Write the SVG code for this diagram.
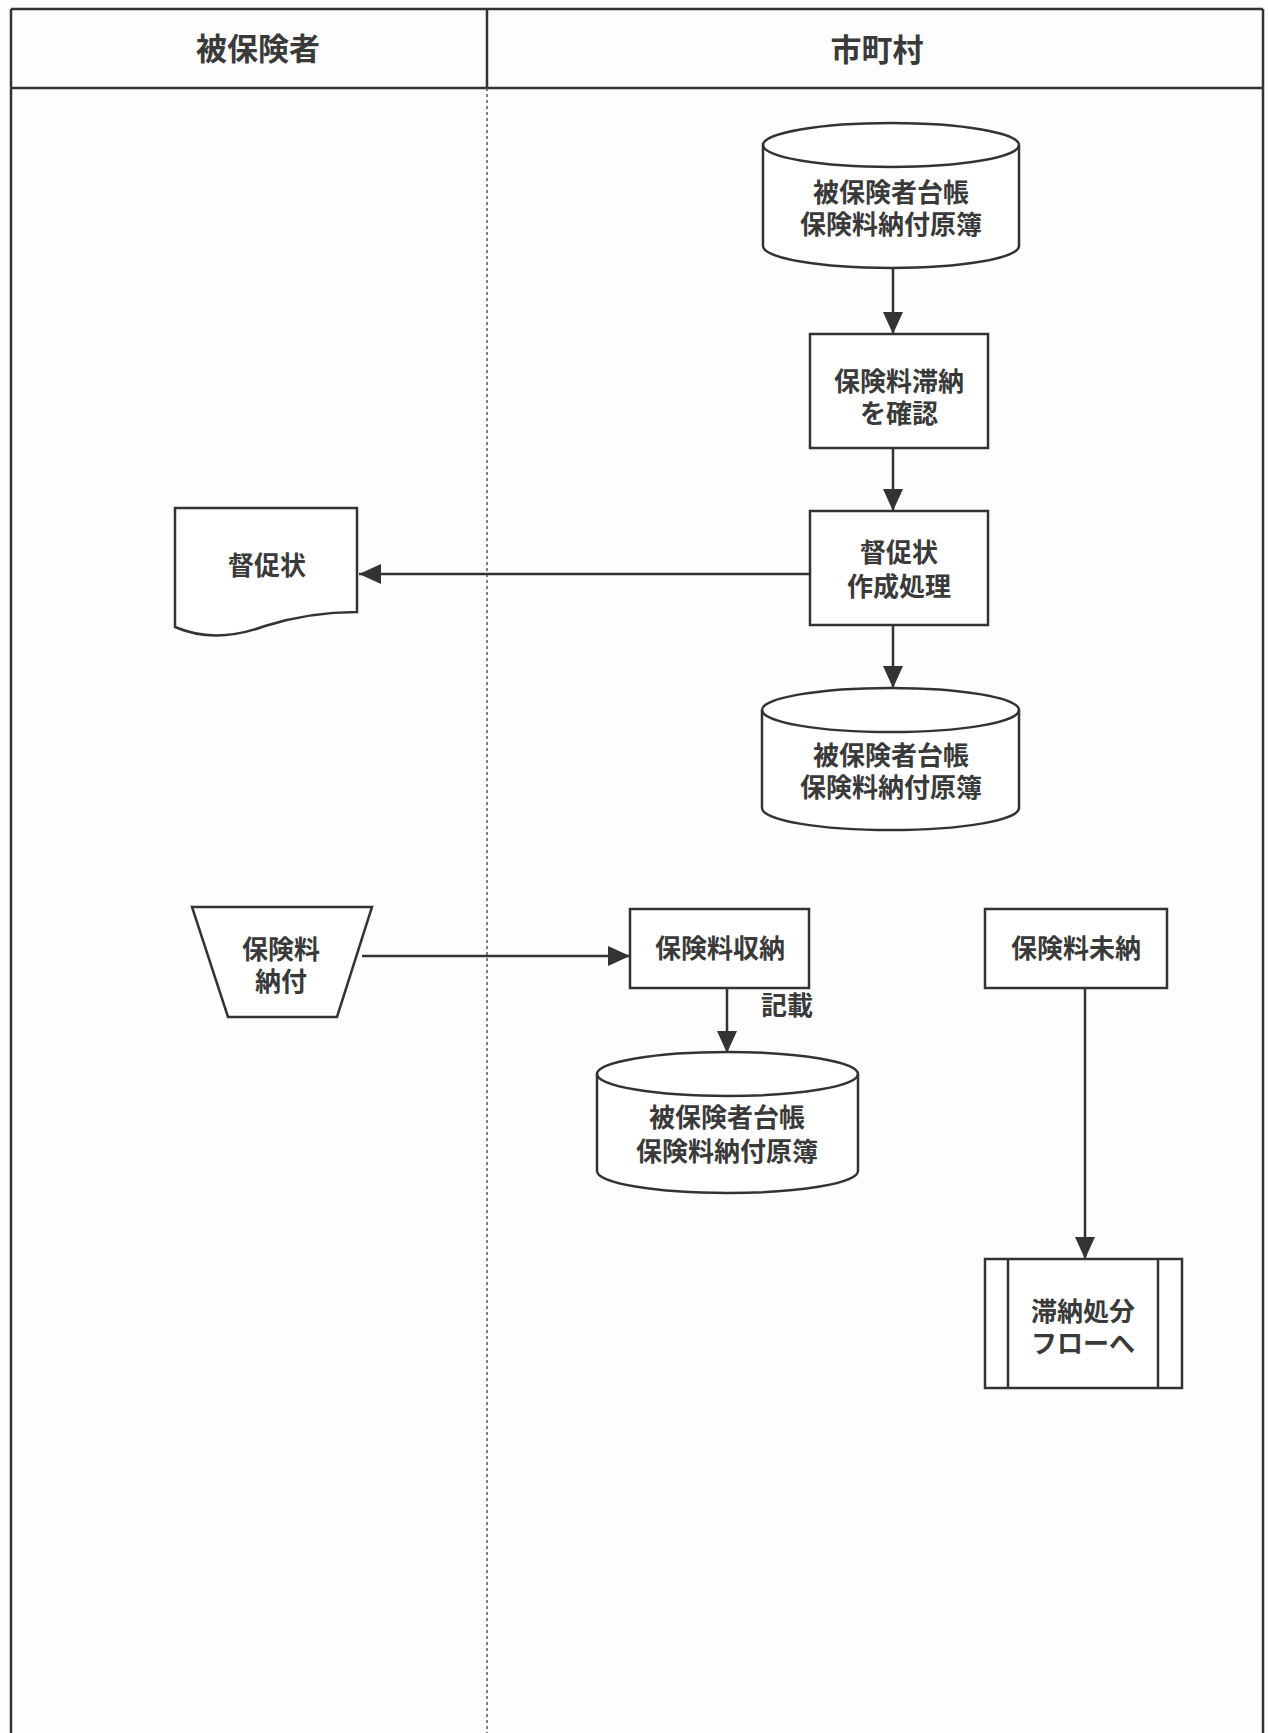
<svg xmlns="http://www.w3.org/2000/svg" width="1268" height="1733" viewBox="0 0 1268 1733">
<defs>
<style>
.ln{stroke:#333;stroke-width:2.5;fill:none}
.shp{stroke:#333;stroke-width:2.5;fill:#fff}
.t{font-family:"Noto Sans CJK JP","Noto Sans CJK SC",sans-serif;font-weight:bold;fill:#3a3a3a;font-size:26px;text-anchor:middle}
.h{font-family:"Noto Sans CJK JP","Noto Sans CJK SC",sans-serif;font-weight:bold;fill:#3a3a3a;font-size:31px;text-anchor:middle}
.c{stroke:#333;stroke-width:2.5;fill:none;marker-end:url(#ah)}
</style>
<marker id="ah" markerUnits="userSpaceOnUse" markerWidth="24" markerHeight="24" viewBox="0 0 24 24" refX="22" refY="12" orient="auto">
<path d="M0,2 L22,12 L0,22 Z" fill="#333"/>
</marker>
</defs>
<rect width="1268" height="1733" fill="#fdfdfd"/>
<g id="frame">
<line x1="11" y1="9" x2="11" y2="1733" class="ln"/>
<line x1="1263" y1="9" x2="1263" y2="1733" class="ln"/>
<line x1="11" y1="9" x2="1263" y2="9" class="ln" stroke-width="3.5"/>
<line x1="11" y1="88" x2="1263" y2="88" class="ln" stroke-width="4"/>
<line x1="487" y1="9" x2="487" y2="88" class="ln"/>
<line x1="487" y1="88" x2="487" y2="1733" stroke="#555" stroke-width="1.5" stroke-dasharray="3,3"/>
</g>
<g id="lane-headers">
<text x="258" y="60" class="h">被保険者</text>
<text x="877" y="61" class="h">市町村</text>
</g>
<g id="connectors">
<line x1="893" y1="268" x2="893" y2="334" class="c"/>
<line x1="893" y1="448" x2="893" y2="511" class="c"/>
<line x1="810" y1="574" x2="359" y2="574" class="c"/>
<line x1="893" y1="625" x2="893" y2="688" class="c"/>
<line x1="362" y1="956" x2="630" y2="956" class="c"/>
<line x1="727" y1="988" x2="727" y2="1053" class="c"/>
<line x1="1085" y1="988" x2="1085" y2="1259" class="c"/>
<text x="787" y="1015" class="t" font-size="24">記載</text>
</g>
<g id="db1">
<path d="M763,145 A128,22 0 0 1 1019,145 V246 A128,22 0 0 1 763,246 Z" class="shp"/>
<path d="M763,145 A128,22 0 0 0 1019,145" class="ln"/>
<text x="891" y="202" class="t">被保険者台帳</text>
<text x="891" y="234" class="t">保険料納付原簿</text>
</g>
<g id="check">
<rect x="810" y="334" width="178" height="114" class="shp"/>
<text x="899" y="391" class="t">保険料滞納</text>
<text x="899" y="423" class="t">を確認</text>
</g>
<g id="make">
<rect x="810" y="511" width="178" height="114" class="shp"/>
<text x="899" y="562" class="t">督促状</text>
<text x="899" y="596" class="t">作成処理</text>
</g>
<g id="notice">
<path d="M175,508 H357 V612 C330,612 300,615 265,626 C235,637 205,640 175,627 Z" class="shp"/>
<text x="267" y="575" class="t">督促状</text>
</g>
<g id="db2">
<path d="M762,710 A128,22 0 0 1 1019,710 V808 A128,22 0 0 1 762,808 Z" class="shp"/>
<path d="M762,710 A128,22 0 0 0 1019,710" class="ln"/>
<text x="891" y="765" class="t">被保険者台帳</text>
<text x="891" y="797" class="t">保険料納付原簿</text>
</g>
<g id="pay">
<path d="M192,907 H372 L337,1017 H228 Z" class="shp"/>
<text x="281" y="959" class="t">保険料</text>
<text x="281" y="991" class="t">納付</text>
</g>
<g id="receive">
<rect x="630" y="909" width="179" height="79" class="shp"/>
<text x="720" y="958" class="t">保険料収納</text>
</g>
<g id="db3">
<path d="M597,1074 A130.5,22 0 0 1 858,1074 V1171 A130.5,22 0 0 1 597,1171 Z" class="shp"/>
<path d="M597,1074 A130.5,22 0 0 0 858,1074" class="ln"/>
<text x="727" y="1127" class="t">被保険者台帳</text>
<text x="727" y="1161" class="t">保険料納付原簿</text>
</g>
<g id="unpaid">
<rect x="985" y="909" width="182" height="79" class="shp"/>
<text x="1076" y="958" class="t">保険料未納</text>
</g>
<g id="delinquency">
<rect x="985" y="1259" width="197" height="129" class="shp"/>
<line x1="1008" y1="1259" x2="1008" y2="1388" class="ln"/>
<line x1="1158" y1="1259" x2="1158" y2="1388" class="ln"/>
<text x="1083" y="1321" class="t">滞納処分</text>
<text x="1083" y="1353" class="t">フローへ</text>
</g>
</svg>
